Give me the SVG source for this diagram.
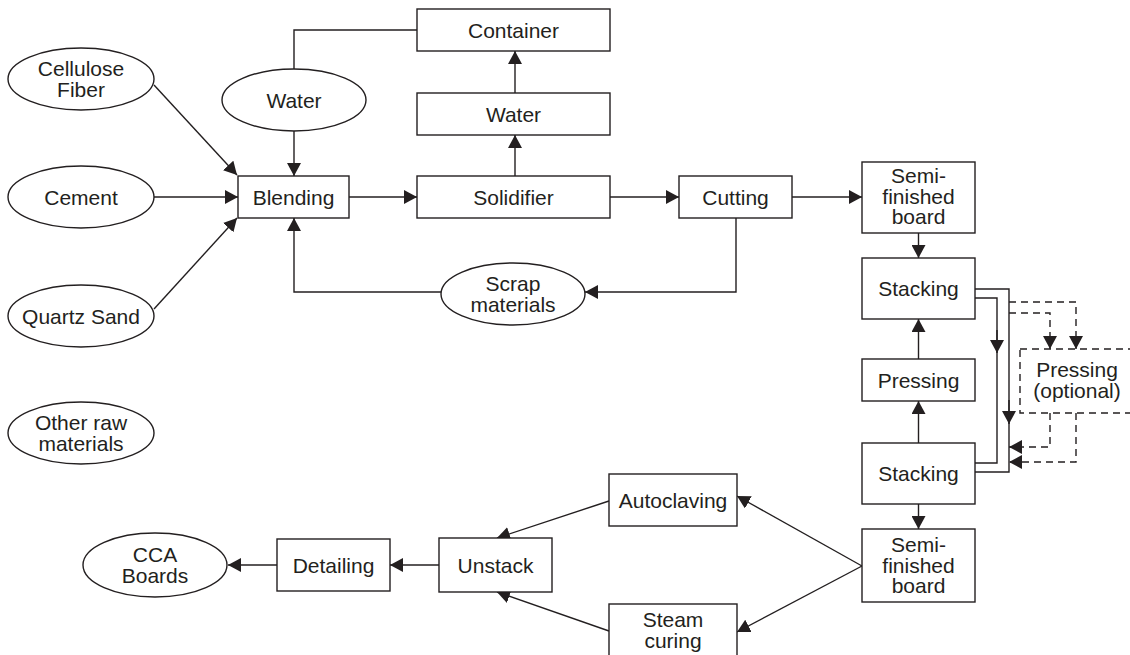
<svg xmlns="http://www.w3.org/2000/svg" width="1130" height="655" viewBox="0 0 1130 655">
  <style>
    .box { fill: #fff; stroke: #231f20; stroke-width: 1.4; }
    .dbox { fill: #fff; stroke: #231f20; stroke-width: 1.4; stroke-dasharray: 7 5; }
    .lbl { font-family: "Liberation Sans", Arial, sans-serif; font-size: 21px; fill: #231f20; text-anchor: middle; }
    .ln { fill: none; stroke: #231f20; stroke-width: 1.4; }
    .dl { fill: none; stroke: #231f20; stroke-width: 1.4; stroke-dasharray: 7 5; }
    .arr { marker-end: url(#head); }
  </style>
  <defs>
    <marker id="head" markerUnits="userSpaceOnUse" markerWidth="14" markerHeight="14" refX="13" refY="7" orient="auto">
      <path d="M0,0 L13,7 L0,14 Z" fill="#231f20"/>
    </marker>
  </defs>
  <rect width="1130" height="655" fill="#fff"/>

  <!-- connectors -->
  <g id="connectors">
    <path class="ln arr" d="M154,85 L237,175"/>
    <path class="ln arr" d="M154,197 L238,197"/>
    <path class="ln arr" d="M154,309 L237,218"/>
    <path class="ln arr" d="M294,131 L294,176"/>
    <path class="ln" d="M294,69 L294,30 L417,30"/>
    <path class="ln arr" d="M349,197 L417,197"/>
    <path class="ln arr" d="M515,176 L515,135"/>
    <path class="ln arr" d="M515,93 L515,51"/>
    <path class="ln arr" d="M610,197 L679,197"/>
    <path class="ln arr" d="M792,197 L862,197"/>
    <path class="ln arr" d="M736,218 L736,292 L585,292"/>
    <path class="ln arr" d="M441,292 L294,292 L294,218"/>
    <path class="ln arr" d="M918.5,233 L918.5,258"/>
    <path class="ln arr" d="M918.5,359 L918.5,319"/>
    <path class="ln arr" d="M918.5,443 L918.5,401"/>
    <path class="ln arr" d="M918.5,504 L918.5,529"/>
    <!-- stacking bypass loops -->
    <path class="ln" d="M975,289 L1009,289 L1009,472 L975,472"/>
    <path class="ln" d="M975,298 L997,298 L997,463 L975,463"/>
    <path class="ln arr" d="M997,330 L997,353"/>
    <path class="ln arr" d="M1009,400 L1009,424"/>
    <!-- optional pressing branch -->
    <path class="dl arr" d="M1009,302 L1076,302 L1076,349"/>
    <path class="dl arr" d="M1009,313 L1050,313 L1050,349"/>
    <path class="dl arr" d="M1050,413 L1050,447 L1009,447"/>
    <path class="dl arr" d="M1076,413 L1076,462 L1009,462"/>
    <!-- curing branches -->
    <path class="ln arr" d="M862,566 L737,496"/>
    <path class="ln arr" d="M862,566 L737,632"/>
    <path class="ln arr" d="M609,501 L497,538"/>
    <path class="ln arr" d="M609,631 L497,592"/>
    <path class="ln arr" d="M439,565 L390,565"/>
    <path class="ln arr" d="M277,565 L228,565"/>
  </g>

  <g id="cellulose-fiber">
    <ellipse class="box" cx="81" cy="79" rx="73" ry="31"/>
    <text class="lbl" x="81" y="76">Cellulose</text>
    <text class="lbl" x="81" y="97">Fiber</text>
  </g>
  <g id="cement">
    <ellipse class="box" cx="81" cy="197" rx="73" ry="31"/>
    <text class="lbl" x="81" y="204.5">Cement</text>
  </g>
  <g id="quartz-sand">
    <ellipse class="box" cx="81" cy="316" rx="73" ry="31"/>
    <text class="lbl" x="81" y="323.5">Quartz Sand</text>
  </g>
  <g id="other-raw-materials">
    <ellipse class="box" cx="81" cy="433" rx="73" ry="31"/>
    <text class="lbl" x="81" y="430">Other raw</text>
    <text class="lbl" x="81" y="451">materials</text>
  </g>
  <g id="water-source">
    <ellipse class="box" cx="294" cy="100" rx="72" ry="31"/>
    <text class="lbl" x="294" y="107.5">Water</text>
  </g>
  <g id="blending">
    <rect class="box" x="238" y="176" width="111" height="42"/>
    <text class="lbl" x="293.5" y="204.5">Blending</text>
  </g>
  <g id="container">
    <rect class="box" x="417" y="9" width="193" height="42"/>
    <text class="lbl" x="513.5" y="37.5">Container</text>
  </g>
  <g id="water">
    <rect class="box" x="417" y="93" width="193" height="42"/>
    <text class="lbl" x="513.5" y="121.5">Water</text>
  </g>
  <g id="solidifier">
    <rect class="box" x="417" y="176" width="193" height="42"/>
    <text class="lbl" x="513.5" y="204.5">Solidifier</text>
  </g>
  <g id="cutting">
    <rect class="box" x="679" y="176" width="113" height="42"/>
    <text class="lbl" x="735.5" y="204.5">Cutting</text>
  </g>
  <g id="scrap-materials">
    <ellipse class="box" cx="513" cy="294" rx="72" ry="31"/>
    <text class="lbl" x="513" y="291">Scrap</text>
    <text class="lbl" x="513" y="312">materials</text>
  </g>
  <g id="semi-finished-board-1">
    <rect class="box" x="862" y="162" width="113" height="71"/>
    <text class="lbl" x="918.5" y="183">Semi-</text>
    <text class="lbl" x="918.5" y="203.5">finished</text>
    <text class="lbl" x="918.5" y="224">board</text>
  </g>
  <g id="stacking-1">
    <rect class="box" x="862" y="258" width="113" height="61"/>
    <text class="lbl" x="918.5" y="296">Stacking</text>
  </g>
  <g id="pressing">
    <rect class="box" x="862" y="359" width="113" height="42"/>
    <text class="lbl" x="918.5" y="387.5">Pressing</text>
  </g>
  <g id="stacking-2">
    <rect class="box" x="862" y="443" width="113" height="61"/>
    <text class="lbl" x="918.5" y="481">Stacking</text>
  </g>
  <g id="pressing-optional">
    <rect class="dbox" x="1020" y="349" width="120" height="64"/>
    <text class="lbl" x="1077" y="377">Pressing</text>
    <text class="lbl" x="1077" y="398">(optional)</text>
  </g>
  <g id="semi-finished-board-2">
    <rect class="box" x="862" y="529" width="113" height="73"/>
    <text class="lbl" x="918.5" y="552">Semi-</text>
    <text class="lbl" x="918.5" y="572.5">finished</text>
    <text class="lbl" x="918.5" y="593">board</text>
  </g>
  <g id="autoclaving">
    <rect class="box" x="609" y="474" width="128" height="52"/>
    <text class="lbl" x="673" y="507.5">Autoclaving</text>
  </g>
  <g id="steam-curing">
    <rect class="box" x="609" y="604" width="128" height="76"/>
    <text class="lbl" x="673" y="627">Steam</text>
    <text class="lbl" x="673" y="648">curing</text>
  </g>
  <g id="unstack">
    <rect class="box" x="439" y="538" width="113" height="54"/>
    <text class="lbl" x="495.5" y="572.5">Unstack</text>
  </g>
  <g id="detailing">
    <rect class="box" x="277" y="539" width="113" height="52"/>
    <text class="lbl" x="333.5" y="572.5">Detailing</text>
  </g>
  <g id="cca-boards">
    <ellipse class="box" cx="155" cy="565" rx="72" ry="32"/>
    <text class="lbl" x="155" y="562">CCA</text>
    <text class="lbl" x="155" y="583">Boards</text>
  </g>
</svg>
